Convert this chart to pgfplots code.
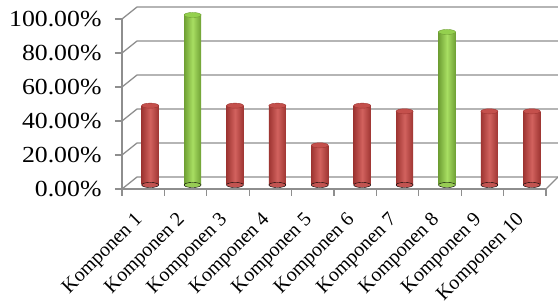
\documentclass[border=0pt]{standalone}
\usepackage{pgfplots}
\pgfplotsset{compat=1.18}
\usepackage{graphicx}
\usepackage{fontspec}
\setmainfont{Liberation Serif}
\definecolor{gridc}{HTML}{8E8E8E}
\definecolor{redE}{HTML}{9E3532}
\definecolor{redM}{HTML}{D2625E}
\definecolor{redT}{HTML}{C4504C}
\definecolor{grnE}{HTML}{6FA034}
\definecolor{grnM}{HTML}{A8DE62}
\definecolor{grnT}{HTML}{94D04E}
\newcommand\cyl[5]{%
  \addplot[only marks, mark=*, mark size=8.5pt, xshift=7pt, yshift=4pt,
    mark options={yscale=0.3, draw=none, fill=#4!70!#3}]
    coordinates {(#1,0)};
  \addplot[ybar, bar width=17pt, bar shift=0pt, xshift=7pt, yshift=4pt, draw=none,
    left color=#3, right color=#3, middle color=#4] coordinates {(#1,#2)};
  \addplot[only marks, mark=*, mark size=8.5pt, xshift=7pt, yshift=4pt,
    mark options={yscale=0.3, fill=#5, draw=#3, line width=0.4pt}]
    coordinates {(#1,#2)};
}
\newcommand\yl[1]{\scalebox{1.12}[1]{#1}}
\begin{document}
\begin{tikzpicture}
\useasboundingbox (0,0) rectangle (558pt,304pt);
\begin{axis}[
  at={(122pt,115pt)}, anchor=south west,
  scale only axis, width=424pt, height=170pt,
  xmin=0, xmax=10, ymin=0, ymax=100,
  clip=false,
  axis x line*=bottom, axis y line*=left,
  axis line style={gridc, line width=1.3pt, -},
  tick align=outside,
  ytick={0,20,40,60,80,100},
  yticklabels={\yl{0.00\%},\yl{20.00\%},\yl{40.00\%},\yl{60.00\%},\yl{80.00\%},\yl{100.00\%}},
  yticklabel style={font=\fontsize{23}{23}\selectfont, xshift=-10pt},
  ytick style={gridc, line width=1.3pt},
  major tick length=7pt,
  xtick={0.5,1.5,...,9.5},
  xticklabels={Komponen 1,Komponen 2,Komponen 3,Komponen 4,Komponen 5,Komponen 6,Komponen 7,Komponen 8,Komponen 9,Komponen 10},
  xticklabel style={font=\fontsize{20}{20}\selectfont, xshift=-1pt, yshift=-19pt, rotate=45, anchor=east},
  x tick style={draw=none},
  extra x ticks={0,1,...,10},
  extra x tick labels={},
  extra x tick style={x tick style={draw=gridc, line width=1.3pt}},
]
\pgfplotsinvokeforeach{0,20,40,60,80,100}{
  \draw[gridc, line width=1.3pt] (axis cs:0,#1) -- ([shift={(15pt,12pt)}]axis cs:0,#1) -- ([shift={(12pt,12pt)}]axis cs:10,#1);
}
\draw[gridc, line width=1.3pt] (axis cs:10,0) -- ([shift={(12pt,12pt)}]axis cs:10,0);
\cyl{0.5}{46.67}{redE}{redM}{redT}
\cyl{1.5}{100}{grnE}{grnM}{grnT}
\cyl{2.5}{46.67}{redE}{redM}{redT}
\cyl{3.5}{46.67}{redE}{redM}{redT}
\cyl{4.5}{23.33}{redE}{redM}{redT}
\cyl{5.5}{46.67}{redE}{redM}{redT}
\cyl{6.5}{43.33}{redE}{redM}{redT}
\cyl{7.5}{90}{grnE}{grnM}{grnT}
\cyl{8.5}{43.33}{redE}{redM}{redT}
\cyl{9.5}{43.33}{redE}{redM}{redT}
\end{axis}
\end{tikzpicture}
\end{document}
